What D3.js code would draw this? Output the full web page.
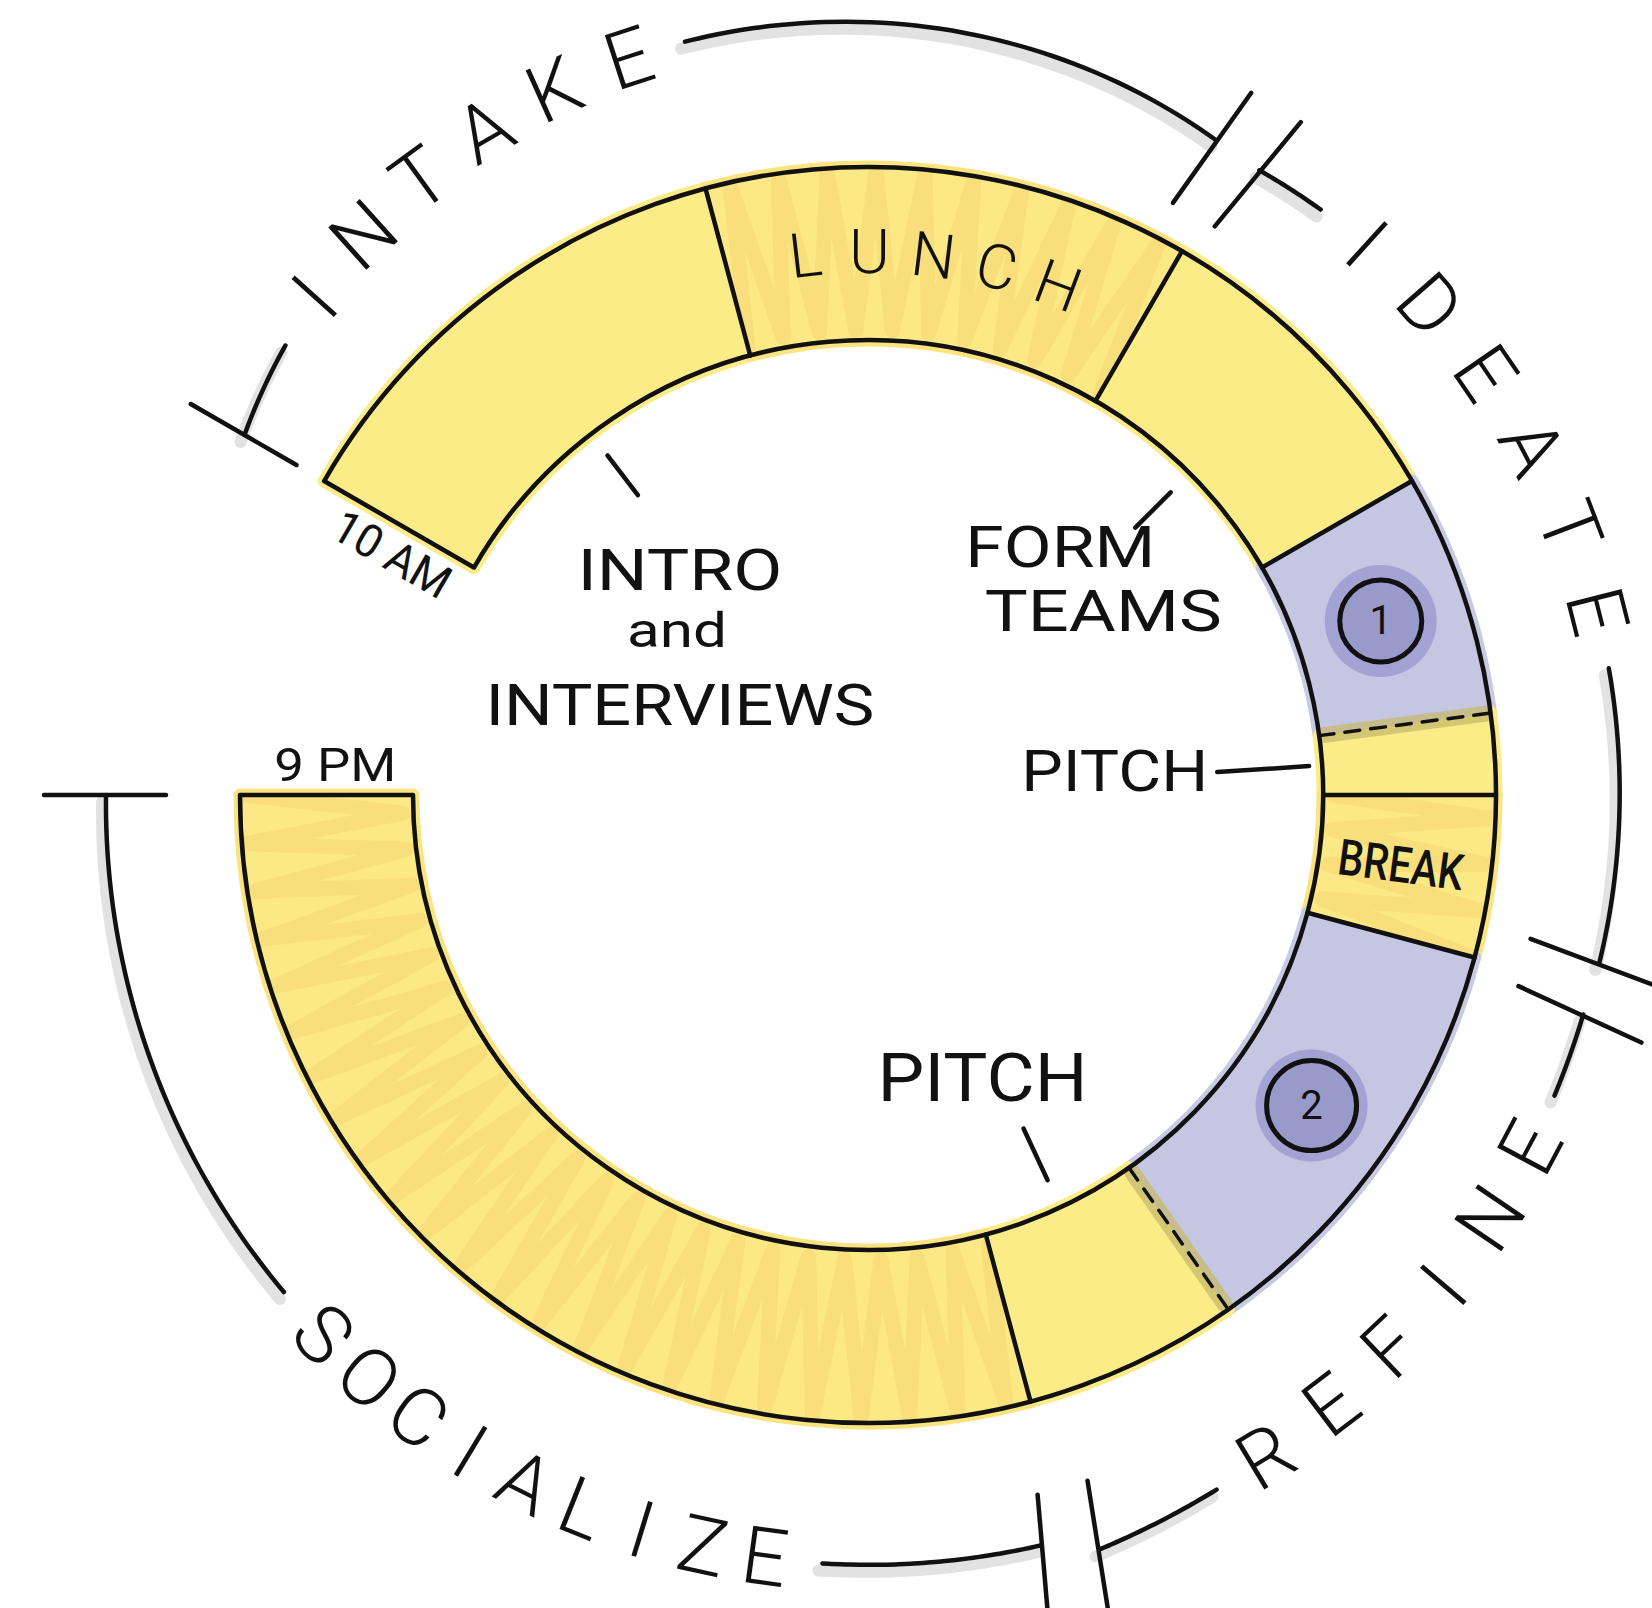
<!DOCTYPE html>
<html>
<head>
<meta charset="utf-8">
<script src="https://cdn.jsdelivr.net/npm/d3@7/dist/d3.min.js"></script>
<style>
  html, body { margin: 0; padding: 0; background: #fff; }
  svg { display: block; }
  text { font-family: Roboto, "Open Sans", "DejaVu Sans", sans-serif; fill: #111; }
</style>
</head>
<body>
<div id="chart"></div>
<script>
// schedule blocks (clock time)
const blockStart = ['10:00', '11:30', '13:00', '14:00', '14:45', '15:00', '15:30', '16:50', '17:30'];
const blockEnd   = ['11:30', '13:00', '14:00', '14:45', '15:00', '15:30', '16:50', '17:30', '21:00'];
const blockKind  = ['work', 'meal', 'work', 'session', 'work', 'meal', 'session', 'work', 'meal'];
const blockLabel = ['INTRO|and|INTERVIEWS', 'LUNCH', 'FORM|TEAMS', '1', 'PITCH', 'BREAK', '2', 'PITCH', ''];
// a session flows into its pitch -> dashed edge after that block
const edgeDashed = [false, false, false, true, false, false, true, false];

const phaseName  = ['INTAKE', 'IDEATE', 'REFINE', 'SOCIALIZE'];
const phaseStart = ['10:00', '13:00', '15:30', '17:30'];
const phaseEnd   = ['13:00', '15:30', '17:30', '21:00'];

const timeLabel = ['10 AM', '9 PM'];

const width = 1652;
const height = 1608;
const cx = 868, cy = 795;
const rIn = 455, rOut = 628;

const toHours = s => { const [h, m] = s.split(':').map(Number); return h + m / 60; };
// 12-hour clock face: noon at the top, clockwise
const angle = d3.scaleLinear().domain([12, 24]).range([0, 2 * Math.PI]);
const deg = a => a * 180 / Math.PI;
const pt = (a, r) => [r * Math.sin(a), -r * Math.cos(a)];

const blocks = blockStart.map((s, i) => ({
  a0: angle(toHours(s)), a1: angle(toHours(blockEnd[i])),
  kind: blockKind[i], label: blockLabel[i], i
}));

const fillFor = { work: '#FCEC88', meal: '#FCE985', session: '#C5C6E1' };
const haloFor = { work: '#FCEC88', meal: '#FBE47F', session: '#C8C9E4' };

const svg = d3.select('#chart').append('svg')
  .attr('width', width).attr('height', height)
  .attr('viewBox', `0 0 ${width} ${height}`);

const g = svg.append('g').attr('transform', `translate(${cx},${cy})`);

const arc = d3.arc().innerRadius(rIn).outerRadius(rOut);
const blockPath = d => arc({ startAngle: d.a0, endAngle: d.a1 });

// marker overspill around the coloured blocks
g.append('g').selectAll('path').data(blocks).join('path')
  .attr('d', blockPath)
  .attr('fill', 'none')
  .attr('stroke', d => haloFor[d.kind])
  .attr('stroke-width', 13)
  .attr('stroke-linejoin', 'round');

g.append('g').selectAll('path').data(blocks).join('path')
  .attr('d', blockPath)
  .attr('fill', d => fillFor[d.kind]);

// scribbled hatching on the meal / social blocks
const defs = svg.append('defs');
blocks.filter(d => d.kind === 'meal').forEach(d => {
  const id = 'clip-' + d.i;
  defs.append('clipPath').attr('id', id).append('path').attr('d', blockPath(d));
  const rm = (rIn + rOut) / 2;
  const n = Math.max(2, Math.round((d.a1 - d.a0) * rm / 21));
  const pts = d3.range(n + 1).map(j => {
    const a = d.a0 + (d.a1 - d.a0) * j / n;
    return pt(a, j % 2 ? rOut - 4 : rIn + 10);
  });
  g.append('path')
    .attr('clip-path', `url(#${id})`)
    .attr('d', d3.line()(pts))
    .attr('fill', 'none')
    .attr('stroke', '#F8DC78')
    .attr('stroke-width', 15)
    .attr('stroke-linejoin', 'round')
    .attr('stroke-linecap', 'round')
    .attr('opacity', 0.8);
});

// edges between blocks
const edges = blocks.slice(0, -1).map((d, i) => ({ a: d.a1, dashed: edgeDashed[i] }));

g.append('g').selectAll('line').data(edges.filter(e => e.dashed)).join('line')
  .attr('x1', e => pt(e.a, rIn + 6)[0]).attr('y1', e => pt(e.a, rIn + 6)[1])
  .attr('x2', e => pt(e.a, rOut - 6)[0]).attr('y2', e => pt(e.a, rOut - 6)[1])
  .attr('stroke', '#C7BB6E').attr('stroke-width', 16).attr('stroke-linecap', 'round')
  .attr('opacity', 0.75);

g.append('g').selectAll('line').data(edges).join('line')
  .attr('x1', e => pt(e.a, rIn)[0]).attr('y1', e => pt(e.a, rIn)[1])
  .attr('x2', e => pt(e.a, rOut)[0]).attr('y2', e => pt(e.a, rOut)[1])
  .attr('stroke', '#111')
  .attr('stroke-width', e => e.dashed ? 3.5 : 4.5)
  .attr('stroke-dasharray', e => e.dashed ? '15 11' : null)
  .attr('stroke-linecap', 'round');

g.append('path')
  .attr('d', arc({ startAngle: blocks[0].a0, endAngle: blocks[blocks.length - 1].a1 }))
  .attr('fill', 'none')
  .attr('stroke', '#111')
  .attr('stroke-width', 4.5)
  .attr('stroke-linejoin', 'round');

// session badges
const rMid = (rIn + rOut) / 2;
const badges = blocks.filter(d => d.kind === 'session');
const badge = g.append('g').selectAll('g').data(badges).join('g')
  .attr('transform', d => `translate(${pt((d.a0 + d.a1) / 2, rMid)})`);
badge.append('circle').attr('r', 56).attr('fill', '#A2A3D2');
badge.append('circle').attr('r', (d, k) => k ? 45 : 41)
  .attr('fill', '#989ACA').attr('stroke', '#111').attr('stroke-width', 5);
badge.append('text')
  .attr('text-anchor', 'middle').attr('dominant-baseline', 'central')
  .attr('font-size', 40).attr('font-weight', 400)
  .text(d => d.label);

// block labels with leader ticks (layout only)
const labelLayout = {
  0: { lead: [378, 428], anchor: 'middle', lines: [[42, 95, 58, 205], [39, 152, 48, 100], [42, 230, 58, 389]] },
  2: { lead: [378, 428], anchor: 'middle', lines: [[-75, 39, 58, 190], [-32, 103, 58, 237]] },
  4: { lead: [350, 442], anchor: 'end', lines: [[-9, 19, 58, 187]] },
  7: { lead: [368, 425], anchor: 'middle', lines: [[-41, -28, 66, 210]] }
};

Object.entries(labelLayout).forEach(([k, lay]) => {
  const d = blocks[+k];
  const am = (d.a0 + d.a1) / 2;
  const p0 = pt(am, lay.lead[0]), p1 = pt(am, lay.lead[1]);
  g.append('line')
    .attr('x1', p0[0]).attr('y1', p0[1]).attr('x2', p1[0]).attr('y2', p1[1])
    .attr('stroke', '#111').attr('stroke-width', 4.5).attr('stroke-linecap', 'round');
  d.label.split('|').forEach((txt, j) => {
    const [dx, dy, size, len] = lay.lines[j];
    g.append('text')
      .attr('x', p0[0] + dx).attr('y', p0[1] + dy)
      .attr('text-anchor', lay.anchor)
      .attr('font-size', size)
      .attr('font-weight', 400)
      .attr('textLength', len)
      .attr('lengthAdjust', 'spacingAndGlyphs')
      .text(txt);
  });
});

// LUNCH written along the ring
{
  const d = blocks[1];
  const am = (d.a0 + d.a1) / 2 - 0.01;
  const letters = d.label.split('');
  const step = 64 / rMid;
  g.append('g').selectAll('text').data(letters).join('text')
    .attr('transform', (c, j) => {
      const a = am + (j - (letters.length - 1) / 2) * step;
      return `translate(${pt(a, rMid + 2)}) rotate(${deg(a)})`;
    })
    .attr('text-anchor', 'middle').attr('dominant-baseline', 'central')
    .attr('font-size', 62).attr('font-weight', 300)
    .text(c => c);
}

// BREAK inside its block
{
  const d = blocks[5];
  const am = (d.a0 + d.a1) / 2;
  g.append('text')
    .attr('transform', `translate(${pt(am, rMid - 4)}) rotate(${deg(am) - 90})`)
    .attr('text-anchor', 'middle').attr('dominant-baseline', 'central')
    .attr('font-size', 50).attr('font-weight', 500)
    .attr('textLength', 126).attr('lengthAdjust', 'spacingAndGlyphs')
    .text(d.label);
}

// start / end times next to the ring ends
[
  { a: blocks[0].a0, side: -1, label: timeLabel[0], len: 128 },
  { a: blocks[blocks.length - 1].a1, side: 1, label: timeLabel[1], len: 122 }
].forEach(t => {
  const a = t.a + t.side * 30 / rMid;
  g.append('text')
    .attr('transform', `translate(${pt(a, rMid - 8)}) rotate(${deg(t.a) + 90})`)
    .attr('text-anchor', 'middle').attr('dominant-baseline', 'central')
    .attr('font-size', 46).attr('font-weight', 400)
    .attr('textLength', t.len).attr('lengthAdjust', 'spacingAndGlyphs')
    .text(t.label);
});

// phase brackets around the outside
// layout: text centre (deg), letter pitch (px), hand-drawn radius at start / middle / end
const phaseLayout = [
  { center: -33, pitch: 80, r: [720, 775, 738] },
  { center: 59, pitch: 88, r: [736, 750, 750] },
  { center: 133.5, pitch: 82, r: [748, 760, 792] },
  { center: 206.5, pitch: 63, r: [770, 768, 762] }
];

const phases = phaseName.map((name, i) => ({
  name, a0: angle(toHours(phaseStart[i])), a1: angle(toHours(phaseEnd[i])), lay: phaseLayout[i], i
}));

const slashGap = 0.036;
const lineLayer = g.append('g');
const shadowLayer = lineLayer.append('g').attr('transform', 'translate(-4,7)');
const inkLayer = lineLayer.append('g');

phases.forEach((p, i) => {
  const [r0, rm, r1] = p.lay.r;
  const rAt = a => {
    const t = (a - p.a0) / (p.a1 - p.a0);
    return r0 * (2 * t - 1) * (t - 1) + rm * 4 * t * (1 - t) + r1 * t * (2 * t - 1);
  };
  const ac = p.lay.center * Math.PI / 180;
  const flip = p.lay.center > 90 && p.lay.center < 270;
  const letters = p.name.split('');
  const step = p.lay.pitch / rAt(ac);
  const half = ((letters.length - 1) / 2 * p.lay.pitch + 58) / rAt(ac);

  g.append('g').selectAll('text').data(letters).join('text')
    .attr('transform', (c, j) => {
      const a = ac + (flip ? -1 : 1) * (j - (letters.length - 1) / 2) * step;
      return `translate(${pt(a, rAt(a))}) rotate(${deg(a) + (flip ? 180 : 0)})`;
    })
    .attr('text-anchor', 'middle').attr('dominant-baseline', 'central')
    .attr('font-size', 80).attr('font-weight', 300)
    .text(c => c);

  const startGap = i === 0 ? 0 : slashGap;
  const endGap = i === phases.length - 1 ? 0 : slashGap;
  const runs = [[p.a0 + startGap, ac - half], [ac + half, p.a1 - endGap]];
  runs.forEach(([s, e]) => {
    const pts = d3.range(25).map(j => { const a = s + (e - s) * j / 24; return pt(a, rAt(a)); });
    const dPath = d3.line().curve(d3.curveCatmullRom)(pts);
    shadowLayer.append('path').attr('d', dPath)
      .attr('fill', 'none').attr('stroke', '#E2E2E2').attr('stroke-width', 12).attr('stroke-linecap', 'round');
    inkLayer.append('path').attr('d', dPath)
      .attr('fill', 'none').attr('stroke', '#111').attr('stroke-width', 4.5).attr('stroke-linecap', 'round');
  });

  // end tick on the first and last phase
  const ticks = [];
  if (i === 0) ticks.push(p.a0);
  if (i === phases.length - 1) ticks.push(p.a1);
  ticks.forEach(a => {
    const r = rAt(a);
    const q0 = pt(a, r - 60), q1 = pt(a, r + 62);
    inkLayer.append('line')
      .attr('x1', q0[0]).attr('y1', q0[1]).attr('x2', q1[0]).attr('y2', q1[1])
      .attr('stroke', '#111').attr('stroke-width', 4.5).attr('stroke-linecap', 'round');
  });

  // double slash where one phase hands over to the next
  if (i < phases.length - 1) {
    const r = rAt(p.a1);
    [p.a1 - slashGap, p.a1 + slashGap].forEach(a => {
      const q0 = pt(a - 0.012, r - 72), q1 = pt(a + 0.012, r + 62);
      inkLayer.append('line')
        .attr('x1', q0[0]).attr('y1', q0[1]).attr('x2', q1[0]).attr('y2', q1[1])
        .attr('stroke', '#111').attr('stroke-width', 4.5).attr('stroke-linecap', 'round');
    });
  }
});
</script>
</body>
</html>
